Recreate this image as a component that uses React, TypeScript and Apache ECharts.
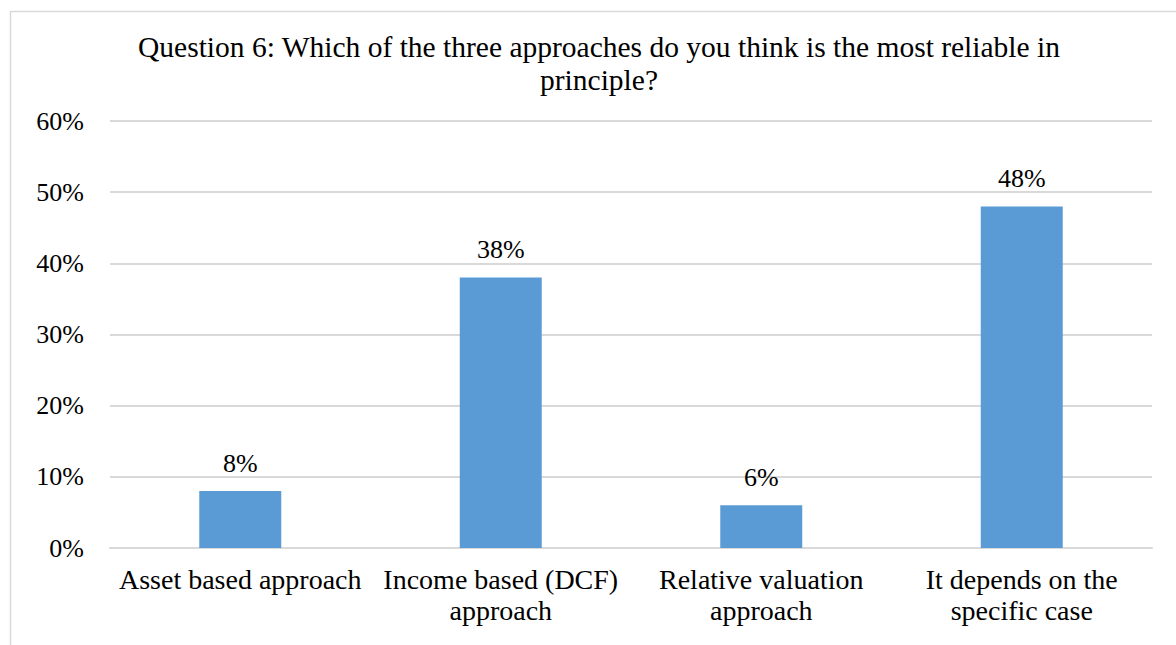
import React, { useEffect, useRef } from "react";
import * as echarts from "echarts";

const categories = [
  "Asset based approach",
  "Income based (DCF)\napproach",
  "Relative valuation\napproach",
  "It depends on the\nspecific case",
];
const values = [8, 38, 6, 48];
const yTicks = [0, 10, 20, 30, 40, 50, 60];
const titleText =
  "Question 6: Which of the three approaches do you think is the most reliable in\nprinciple?";

const FONT = "Liberation Serif";

export default function App() {
  const ref = useRef<HTMLDivElement>(null);
  useEffect(() => {
    if (!ref.current) return;
    const chart = echarts.init(ref.current, undefined, { renderer: "svg" });
    chart.setOption({
      animation: false,
      backgroundColor: "#ffffff",
      textStyle: { fontFamily: FONT },
      title: {
        text: titleText,
        left: 599,
        top: 30,
        padding: 0,
        textAlign: "center",
        textStyle: {
          fontFamily: FONT,
          fontSize: 29.5,
          fontWeight: "normal",
          color: "#000000",
          lineHeight: 33,
        },
      },
      graphic: [
        {
          type: "rect",
          shape: { x: 10.5, y: 11.5, width: 1200, height: 700 },
          style: { fill: "none", stroke: "#d9d9d9", lineWidth: 1.5 },
          silent: true,
          z: -1,
        },
      ],
      grid: { left: 110, right: 24, top: 121, bottom: 97, containLabel: false },
      xAxis: {
        type: "category",
        data: categories,
        axisLine: { show: true, lineStyle: { color: "#d9d9d9", width: 2 } },
        axisTick: { show: false },
        axisLabel: {
          interval: 0,
          fontFamily: FONT,
          fontSize: 28,
          color: "#000000",
          lineHeight: 31,
          margin: 16,
        },
      },
      yAxis: {
        type: "value",
        min: yTicks[0],
        max: yTicks[yTicks.length - 1],
        interval: 10,
        axisLine: { show: false },
        axisTick: { show: false },
        splitLine: { lineStyle: { color: "#d9d9d9", width: 2 } },
        axisLabel: {
          formatter: "{value}%",
          fontFamily: FONT,
          fontSize: 26,
          color: "#000000",
          margin: 26,
        },
      },
      series: [
        {
          type: "bar",
          data: values,
          barWidth: 82,
          itemStyle: { color: "#5b9bd5" },
          label: {
            show: true,
            position: "top",
            distance: 15,
            formatter: "{c}%",
            fontFamily: FONT,
            fontSize: 26,
            color: "#000000",
          },
        },
      ],
    });
    return () => chart.dispose();
  }, []);
  return (
    <div
      ref={ref}
      style={{ position: "absolute", left: 0, top: 0, width: 1176, height: 645 }}
    />
  );
}
